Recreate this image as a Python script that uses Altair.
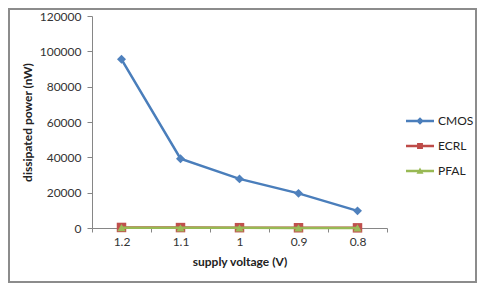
import altair as alt
import pandas as pd

voltages = ["1.2", "1.1", "1", "0.9", "0.8"]
series_names = ["CMOS", "ECRL", "PFAL"]
cmos = [95500, 39200, 27800, 19600, 9700]
ecrl = [310, 240, 180, 130, 90]
pfal = [150, 120, 90, 65, 45]
y_ticks = [0, 20000, 40000, 60000, 80000, 100000, 120000]

colors = ["#4A7EBB", "#BE4B48", "#98B954"]
marker_colors = ["#4F81BD", "#C0504D", "#9BBB59"]

rows = []
for name, vals in zip(series_names, [cmos, ecrl, pfal]):
    for v, p in zip(voltages, vals):
        rows.append({"voltage": v, "series": name, "power": p})
df = pd.DataFrame(rows)

FONT = "Lato"
W, H = 295, 212

x_enc = alt.X(
    "voltage:O",
    sort=voltages,
    bandPosition=0.5,
    scale=alt.Scale(type="band", paddingInner=0, paddingOuter=0),
    axis=alt.Axis(
        title="supply voltage (V)",
        labelAngle=0,
        tickBand="extent",
        tickSize=4,
        labelPadding=4,
        titlePadding=9,
        domainColor="#868686",
        tickColor="#868686",
        labelColor="#333333",
        labelFontSize=12,
        titleFontSize=12,
        titleFontWeight="bold",
        titleColor="#222222",
    ),
)
y_enc = alt.Y(
    "power:Q",
    scale=alt.Scale(domain=[0, 120000], nice=False),
    axis=alt.Axis(
        title="dissipated power (nW)",
        values=y_ticks,
        format="d",
        grid=False,
        tickSize=5,
        labelPadding=6,
        titlePadding=5,
        domainColor="#868686",
        tickColor="#868686",
        labelColor="#333333",
        labelFontSize=12,
        titleFontSize=12,
        titleFontWeight="bold",
        titleColor="#222222",
    ),
)

shapes = ["diamond", "square", "triangle-up"]
sizes = [80, 90, 70]
series_layers = []
for name, col, shp, mcol, sz in zip(series_names, colors, shapes, marker_colors, sizes):
    base = alt.Chart(df).transform_filter(alt.datum.series == name)
    series_layers.append(
        base.mark_line(strokeWidth=2.5, color=col).encode(x=x_enc, y=y_enc)
    )
    series_layers.append(
        base.mark_point(shape=shp, filled=True, size=sz, color=mcol, opacity=1).encode(x=x_enc, y=y_enc)
    )

bar = "M-2,-0.18H2V0.18H-2Z"
legend_paths = [
    bar + " M0,-0.55L0.55,0L0,0.55L-0.55,0Z",
    bar + " M-0.42,-0.42H0.42V0.42H-0.42Z",
    bar + " M0,-0.5L0.5,0.4H-0.5Z",
]

leg = alt.Legend(
    title=None,
    orient="none",
    legendX=321,
    legendY=98,
    padding=0,
    symbolSize=196,
    symbolStrokeWidth=0,
    labelOffset=11,
    rowPadding=12,
    labelFont=FONT,
    labelFontSize=12,
    labelColor="#222222",
)

legend_layer = (
    alt.Chart(df)
    .transform_filter("false")
    .mark_point(filled=True, opacity=1)
    .encode(
        x=x_enc,
        y=y_enc,
        color=alt.Color("series:N", scale=alt.Scale(domain=series_names, range=colors), legend=leg),
        shape=alt.Shape("series:N", scale=alt.Scale(domain=series_names, range=legend_paths), legend=leg),
    )
)

frame = alt.Chart(df).mark_rect(
    fill=None, stroke="#8c8c8c", strokeWidth=1.5
).encode(
    x=alt.value(-83),
    x2=alt.value(W + 89),
    y=alt.value(-7),
    y2=alt.value(H + 54),
)

chart = (
    alt.layer(frame, *series_layers, legend_layer)
    .properties(
        width=W,
        height=H,
        autosize=alt.AutoSizeParams(type="none"),
        padding={"left": 84, "top": 8, "right": 90, "bottom": 55},
        background="white",
    )
    .configure_view(stroke=None)
    .configure_axis(labelFont=FONT, titleFont=FONT)
    .configure_legend(labelFont=FONT)
)

chart.save("out.html", embed_options={"renderer": "svg", "actions": False})
